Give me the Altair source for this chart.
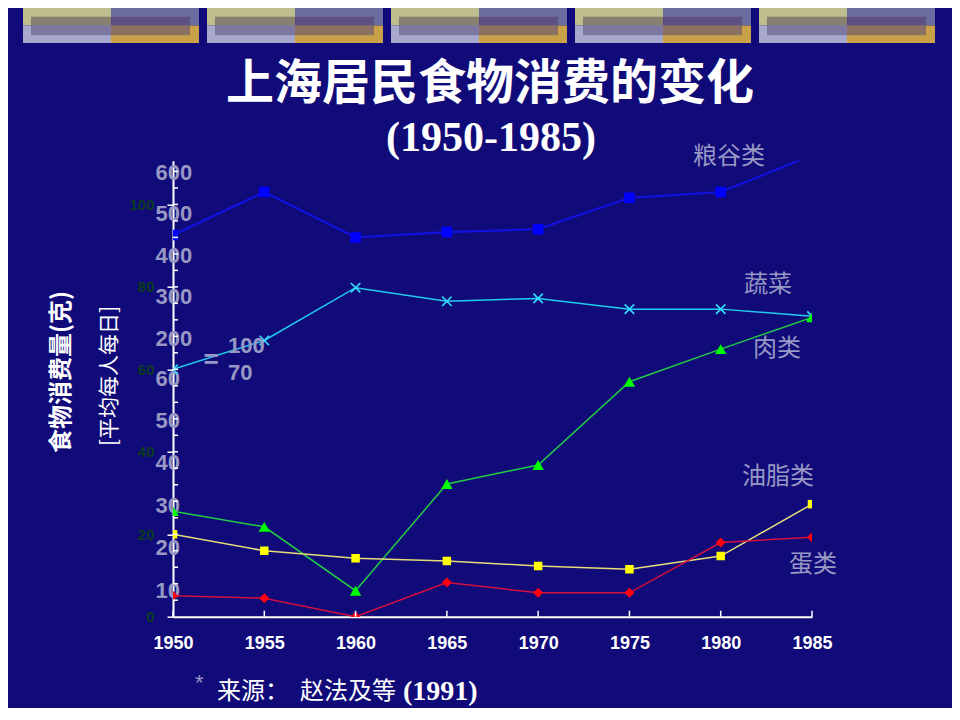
import altair as alt
import pandas as pd

# ---------------- data (values in the chart's own axis units) ----------------
years = [1950, 1955, 1960, 1965, 1970, 1975, 1980, 1985]
grain = [92.6, 103.0, 92.0, 93.3, 94.0, 101.6, 103.0, 111.9]
veg = [60.0, 67.0, 79.8, 76.5, 77.2, 74.6, 74.6, 72.9]
meat = [25.6, 21.8, 6.3, 32.2, 36.8, 57.0, 64.9, 72.6]
oil = [20.0, 16.0, 14.2, 13.5, 12.3, 11.5, 14.7, 27.3]
egg = [5.1, 4.5, 0.0, 8.3, 5.8, 5.8, 18.0, 19.3]
series_names = ["粮谷类", "蔬菜", "肉类", "油脂类", "蛋类"]
series_values = [grain, veg, meat, oil, egg]

main_ticks = [0, 20, 40, 60, 80, 100]
minor_ticks = list(range(4, 110, 4))
overlay_ticks = [10, 20, 30, 40, 50, 60, 200, 300, 400, 500, 600]
overlay_pos = [429.3, 217.3, 177.6, 11.6]  # piecewise scale anchors for 10, 60, 200, 600
deco_slots = [0, 1, 2, 3, 4]

# ---------------- styles ----------------
BG = "#110b79"
GRAY = "#9898c4"
CJK = "Noto Sans CJK SC"
SANS = "Liberation Sans"
NARROW = "Liberation Sans Narrow, Liberation Sans"
SERIF = "Liberation Serif"
W, H = 639, 456
YMAX = 110.6

styles = [
    dict(line="#1212de", pt="#0000ff", shape="square", size=110, lw=2.2, filled=True),
    dict(line="#22ccee", pt="#33ddff", shape="M-1,-1L1,1M-1,1L1,-1", size=90, lw=1.5, filled=False),
    dict(line="#22cc44", pt="#00ff00", shape="triangle-up", size=130, lw=1.5, filled=True),
    dict(line="#e6dc7a", pt="#ffff00", shape="square", size=72, lw=1.5, filled=True),
    dict(line="#d4103c", pt="#ff0010", shape="diamond", size=100, lw=1.5, filled=True),
]

xs = alt.Scale(domain=[1950, 1985], nice=False, zero=False)
ys = alt.Scale(domain=[0, YMAX], nice=False, zero=False)

xaxis = alt.Axis(values=years, format="d", title=None, grid=False, ticks=False, tickSize=0,
                 domainColor="white", domainWidth=2, labelColor="white", labelFont=NARROW,
                 labelFontWeight="bold", labelFontSize=18, labelPadding=18, labelFlush=False,
                 labelOverlap=False)
yaxis = alt.Axis(values=main_ticks, title=None, grid=False, domainColor="white", domainWidth=2,
                 tickColor="white", tickWidth=1.5, tickSize=6, labelColor="#0c3c20",
                 labelFont=SANS, labelFontWeight="bold", labelFontSize=15, labelPadding=13,
                 labelOverlap=False, labelFlush=False)

layers = []
for name, vals, st in zip(series_names, series_values, styles):
    df = pd.DataFrame({"year": years, "v": vals, "series": name})
    base = alt.Chart(df).encode(
        x=alt.X("year:Q", scale=xs, axis=xaxis),
        y=alt.Y("v:Q", scale=ys, axis=yaxis),
    )
    layers.append(base.mark_line(color=st["line"], strokeWidth=st["lw"], clip=True))
    layers.append(base.mark_point(shape=st["shape"], size=st["size"], filled=st["filled"],
                                  color=st["pt"], strokeWidth=1.6, opacity=1, clip=True))

minor = alt.Chart(pd.DataFrame({"t": minor_ticks})).mark_tick(
    orient="horizontal", size=5, thickness=1.5, color="white", opacity=1
).encode(y=alt.Y("t:Q", scale=ys, axis=yaxis), x=alt.value(2.5))

xticks = alt.Chart(pd.DataFrame({"year": years})).mark_tick(
    orient="vertical", size=6, thickness=1.5, color="white", opacity=1
).encode(x=alt.X("year:Q", scale=xs, axis=xaxis), y=alt.value(H - 3))

main = alt.layer(*layers, minor, xticks)

# overlay (broken-axis) labels drawn as a second axis with a piecewise scale
ov_scale = alt.Scale(type="linear", domain=[10, 60, 200, 600], range=overlay_pos, nice=False, zero=False)
overlay = alt.Chart(pd.DataFrame({"t": overlay_ticks})).mark_point(opacity=0).encode(
    y=alt.Y("t:Q", scale=ov_scale,
            axis=alt.Axis(orient="left", values=overlay_ticks, ticks=False, tickSize=0, domain=False,
                          grid=False, labelAlign="left", labelBaseline="middle", labelPadding=18,
                          labelColor=GRAY, labelFont=SANS, labelFontWeight="bold", labelFontSize=22,
                          labelOverlap=False, labelBound=False, labelFlush=False, title=None))
)

# top decoration bars
quads = [(0, 0, "#bebe8e", "#878070"), (0, 1, "#a8a8cc", "#7c78a0"),
         (1, 0, "#6c6ca0", "#5c5080"), (1, 1, "#c8a048", "#8a7060")]
deco_df = pd.DataFrame([{"slot": s, "half": h, "row": r, "outer": o, "inner": i}
                        for s in deco_slots for (h, r, o, i) in quads])
dx = alt.Scale(domain=[0, 5], range=[-150, 770], nice=False, zero=False)
dy = alt.Scale(domain=[0, 2], range=[-152.7, -117.7], nice=False, zero=False)
deco_base = alt.Chart(deco_df).transform_calculate(
    x0="datum.slot + datum.half * 0.4783",
    x1="datum.slot + datum.half * 0.4783 + 0.4783",
    y0="datum.row", y1="datum.row + 1",
)
deco_enc = dict(x=alt.X("x0:Q", scale=dx, axis=None), x2="x1:Q",
                y=alt.Y("y0:Q", scale=dy, axis=None), y2="y1:Q")
deco_layers = [deco_base.mark_rect().encode(color=alt.Color("outer:N", scale=None), **deco_enc)]
for (h, r, o, i) in quads:
    props = {}
    if h == 0:
        props["xOffset"] = 8
    else:
        props["x2Offset"] = -9
    if r == 0:
        props["yOffset"] = 8.7
    else:
        props["y2Offset"] = -7.7
    deco_layers.append(
        deco_base.transform_filter(f"datum.half == {h} && datum.row == {r}")
        .mark_rect(**props).encode(color=alt.Color("inner:N", scale=None), **deco_enc)
    )


def txt(s, x, y, size, color="white", font=CJK, weight="normal", align="center", angle=0):
    return alt.Chart(pd.DataFrame({"s": [s]})).mark_text(
        x=x, y=y, fontSize=size, color=color, font=font, fontWeight=weight,
        align=align, baseline="middle", angle=angle
    ).encode(text="s:N")


texts = [
    txt("上海居民食物消费的变化", 317, -75.7, 48, weight="bold"),
    txt("(1950-1985)", 318, -22.7, 42, font=SERIF, weight="bold"),
    txt("食物消费量(克)", -111, 211.3, 24, weight="bold", angle=270),
    txt("[平均每人每日]", -63, 215.3, 21, angle=270),
    txt("粮谷类", 556, -3.7, 24, color=GRAY),
    txt("蔬菜", 595, 124, 24, color=GRAY),
    txt("肉类", 604, 188.3, 24, color=GRAY),
    txt("油脂类", 605, 316.3, 24, color=GRAY),
    txt("蛋类", 640, 404, 24, color=GRAY),
    txt("=", 38, 199.3, 26, color=GRAY, font=SANS, weight="bold"),
    txt("100", 55, 185, 22, color=GRAY, font=SANS, weight="bold", align="left"),
    txt("70", 55, 212.6, 22, color=GRAY, font=SANS, weight="bold", align="left"),
    txt("*", 22, 522, 22, color=GRAY, font=SANS, align="left"),
    txt("来源：", 44, 531, 24, align="left"),
    txt("赵法及等", 127, 531, 24, align="left"),
    txt("(1991)", 230, 531, 28, font=SERIF, weight="bold", align="left"),
]

chart = alt.layer(*deco_layers, main, overlay, *texts).resolve_scale(
    x="independent", y="independent"
).properties(
    width=W, height=H, background=BG,
    padding={"left": 165, "top": 152.7, "right": 140, "bottom": 91.3},
    autosize=alt.AutoSizeParams(type="none"),
).configure_view(stroke=None)

chart.save("out.html", embed_options={"renderer": "svg", "actions": False})
